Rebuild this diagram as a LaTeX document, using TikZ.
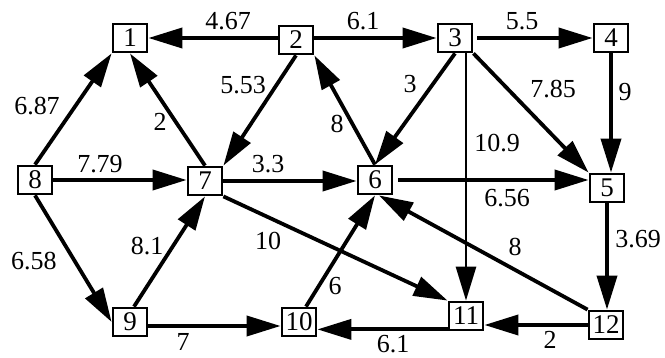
\documentclass[tikz,border=0pt]{standalone}
\usepackage{fontspec}
\setmainfont{Liberation Serif}
\usetikzlibrary{arrows.meta}
\begin{document}
\begin{tikzpicture}[x=1pt,y=-1pt,
  vbox/.style={draw, line width=2.8pt, minimum width=34pt, minimum height=28pt, inner sep=0pt, font=\fontsize{27}{27}\selectfont},
  edge/.style={line width=3.8pt, -{Triangle[length=34pt,width=20pt]}},
  wt/.style={font=\fontsize{26}{26}\selectfont, inner sep=0pt}]
\useasboundingbox (0,0) rectangle (665,358);
% nodes
\node[vbox] (n1) at (130,38) {1};
\node[vbox] (n2) at (296,40) {2};
\node[vbox] (n3) at (455,38) {3};
\node[vbox] (n4) at (611,38) {4};
\node[vbox] (n5) at (607,188) {5};
\node[vbox] (n6) at (375,180) {6};
\node[vbox] (n7) at (205,181) {7};
\node[vbox] (n8) at (35,180) {8};
\node[vbox] (n9) at (130,322) {9};
\node[vbox] (n10) at (299,322) {10};
\node[vbox] (n11) at (466,316) {11};
\node[vbox] (n12) at (606,325) {12};
% edges
\draw[edge] (n2.west |- n1.east) -- (n1.east);
\draw[edge] (n2.east |- n3.west) -- (n3.west);
\draw[edge, shorten <=4pt] (n3.east) -- (n4.west);
\draw[edge] (n8.north) -- (n1.south west);
\draw[edge] (n7.north) -- (n1.south);
\draw[edge] (n2.south) -- (n7.north east);
\draw[edge] (n6.north) -- (n2.south east);
\draw[edge] (n3.south) -- (n6.north);
\draw[edge, line width=2.8pt] (n3.south -| n11.north) -- (n11.north);
\draw[edge] (n3.south east) -- (n5.north west);
\draw[edge] (n4.south) -- (n4.south |- n5.north);
\draw[edge] (n8.east) -- (n8.east -| n7.west);
\draw[edge] (n7.east) -- (n7.east -| n6.west);
\draw[edge, shorten <=5pt] (n6.east) -- (n6.east -| n5.west);
\draw[edge] (n8.south) -- (n9.west);
\draw[edge] ([xshift=4pt]n9.north) -- (n7.south);
\draw[edge] (n7.south east) -- (n11.north west);
\draw[edge] ([xshift=7pt]n10.north) -- (n6.south);
\draw[edge] (n12.north west) -- ([xshift=4pt]n6.south);
\draw[edge] (n5.south) -- (n5.south |- n12.north);
\draw[edge] ([yshift=-4pt]n9.east) -- ([yshift=-4pt]n10.west);
\draw[edge] ([yshift=2pt]n11.south west) -- ([yshift=2pt]n11.south west -| n10.east);
\draw[edge] (n12.west) -- (n12.west -| n11.east);
% weights
\node[wt] (w21) at (228,21) {4.67};
\node[wt] (w23) at (363,21) {6.1};
\node[wt] (w34) at (522,21) {5.5};
\node[wt] (w81) at (37,106) {6.87};
\node[wt] (w71) at (160,122) {2};
\node[wt] (w27) at (243,85) {5.53};
\node[wt] (w62) at (337,124) {8};
\node[wt] (w36) at (410,84) {3};
\node[wt] (w35) at (553,89) {7.85};
\node[wt] (w45) at (625,92) {9};
\node[wt] (w311) at (497,143) {10.9};
\node[wt] (w87) at (100,164) {7.79};
\node[wt] (w76) at (268,164) {3.3};
\node[wt] (w65) at (507,198) {6.56};
\node[wt] (w89) at (34,261) {6.58};
\node[wt] (w97) at (147,246) {8.1};
\node[wt] (w711) at (268,241) {10};
\node[wt] (w106) at (335,286) {6};
\node[wt] (w126) at (515,247) {8};
\node[wt] (w512) at (638,239) {3.69};
\node[wt] (w910) at (183,342) {7};
\node[wt] (w1110) at (393,344) {6.1};
\node[wt] (w1211) at (550,340) {2};
\end{tikzpicture}
\end{document}
